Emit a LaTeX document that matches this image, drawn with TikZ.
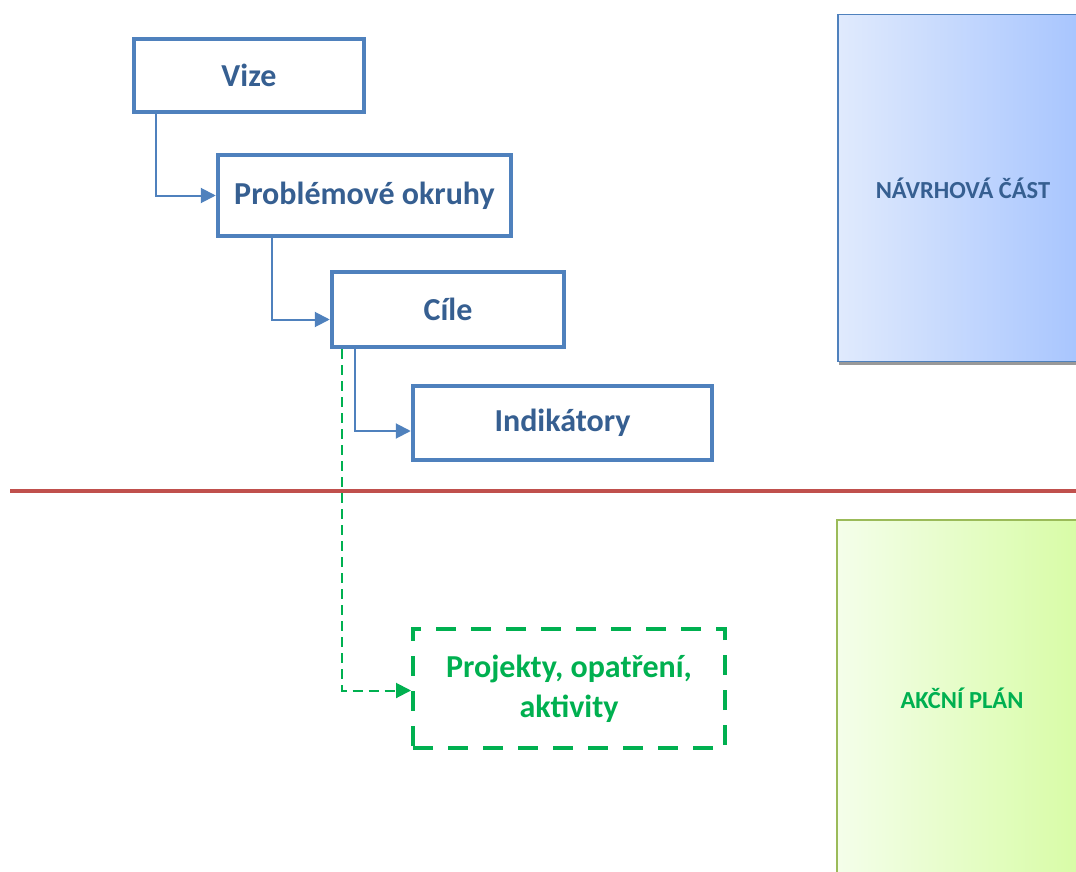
\documentclass[tikz,border=0pt]{standalone}
\usepackage{fontspec}
\setmainfont{Carlito}
\usepackage{tikz}
\usetikzlibrary{arrows.meta,shadows}
\definecolor{boxblue}{HTML}{4F81BD}
\definecolor{textblue}{HTML}{365F91}
\definecolor{actgreen}{HTML}{00B050}
\definecolor{linered}{HTML}{C0504D}
\definecolor{plangreen}{HTML}{9BBB59}
\definecolor{navleft}{HTML}{E0EAFD}
\definecolor{navright}{HTML}{A6C4FE}
\definecolor{planleft}{HTML}{F4FEEA}
\definecolor{planright}{HTML}{D7FCA4}

\begin{document}
\begin{tikzpicture}[x=1pt,y=-1pt,
  level/.style={draw=boxblue,line width=4.5pt,fill=white,text=textblue,inner sep=0pt,
    font=\bfseries\fontsize{32}{38}\selectfont},
  task/.style={draw=actgreen,line width=4pt,dash pattern=on 20pt off 15pt,text=actgreen,
    align=center,inner sep=0pt,font=\bfseries\fontsize{32}{40}\selectfont},
  link/.style={draw=boxblue,line width=2pt,-{Triangle[length=15pt,width=15pt]}},
  dlink/.style={draw=actgreen,line width=2pt,dash pattern=on 10pt off 6pt,
    -{Triangle[length=15pt,width=15pt]}},
  part/.style={line width=1.5pt,inner sep=0pt,font=\bfseries\fontsize{24.5}{29}\selectfont}]
\useasboundingbox (0,0) rectangle (1076,872);
\clip (0,0) rectangle (1076,872);

\node (navrh) [part,draw=boxblue,left color=navleft,right color=navright,
  text=textblue,minimum width=250pt,minimum height=347pt,
  drop shadow={shadow xshift=1pt,shadow yshift=-3pt,fill=gray,opacity=0.8}]
  at (963,188) {NÁVRHOVÁ ČÁST};
\node (akce) [part,draw=plangreen,left color=planleft,right color=planright,
  text=actgreen,minimum width=250pt,minimum height=356pt] at (962,698) {AKČNÍ PLÁN};

\draw[linered,line width=4pt](10,491)--(1076,491);

\node (vize) [level,minimum width=230pt,minimum height=73pt] at (249,75.5) {Vize};
\node (okruhy) [level,minimum width=293pt,minimum height=81pt] at (364.5,195.5) {Problémové okruhy};
\node (cile) [level,minimum width=232pt,minimum height=75pt] at (448,309.5) {Cíle};
\node (ind) [level,minimum width=299pt,minimum height=74pt] at (562.5,423) {Indikátory};
\node (proj) [task,minimum width=312pt,minimum height=119pt] at (569,688.5) {Projekty, opatření,\\aktivity};

\draw[link]([xshift=24pt]vize.south west) |- (okruhy.west);
\draw[link]([xshift=56pt]okruhy.south west) |- ([yshift=-10pt]cile.west);
\draw[link]([xshift=25pt]cile.south west) |- ([yshift=-8pt]ind.west);
\draw[dlink]([xshift=12pt]cile.south west) |- ([yshift=-2pt]proj.west);
\end{tikzpicture}
\end{document}
